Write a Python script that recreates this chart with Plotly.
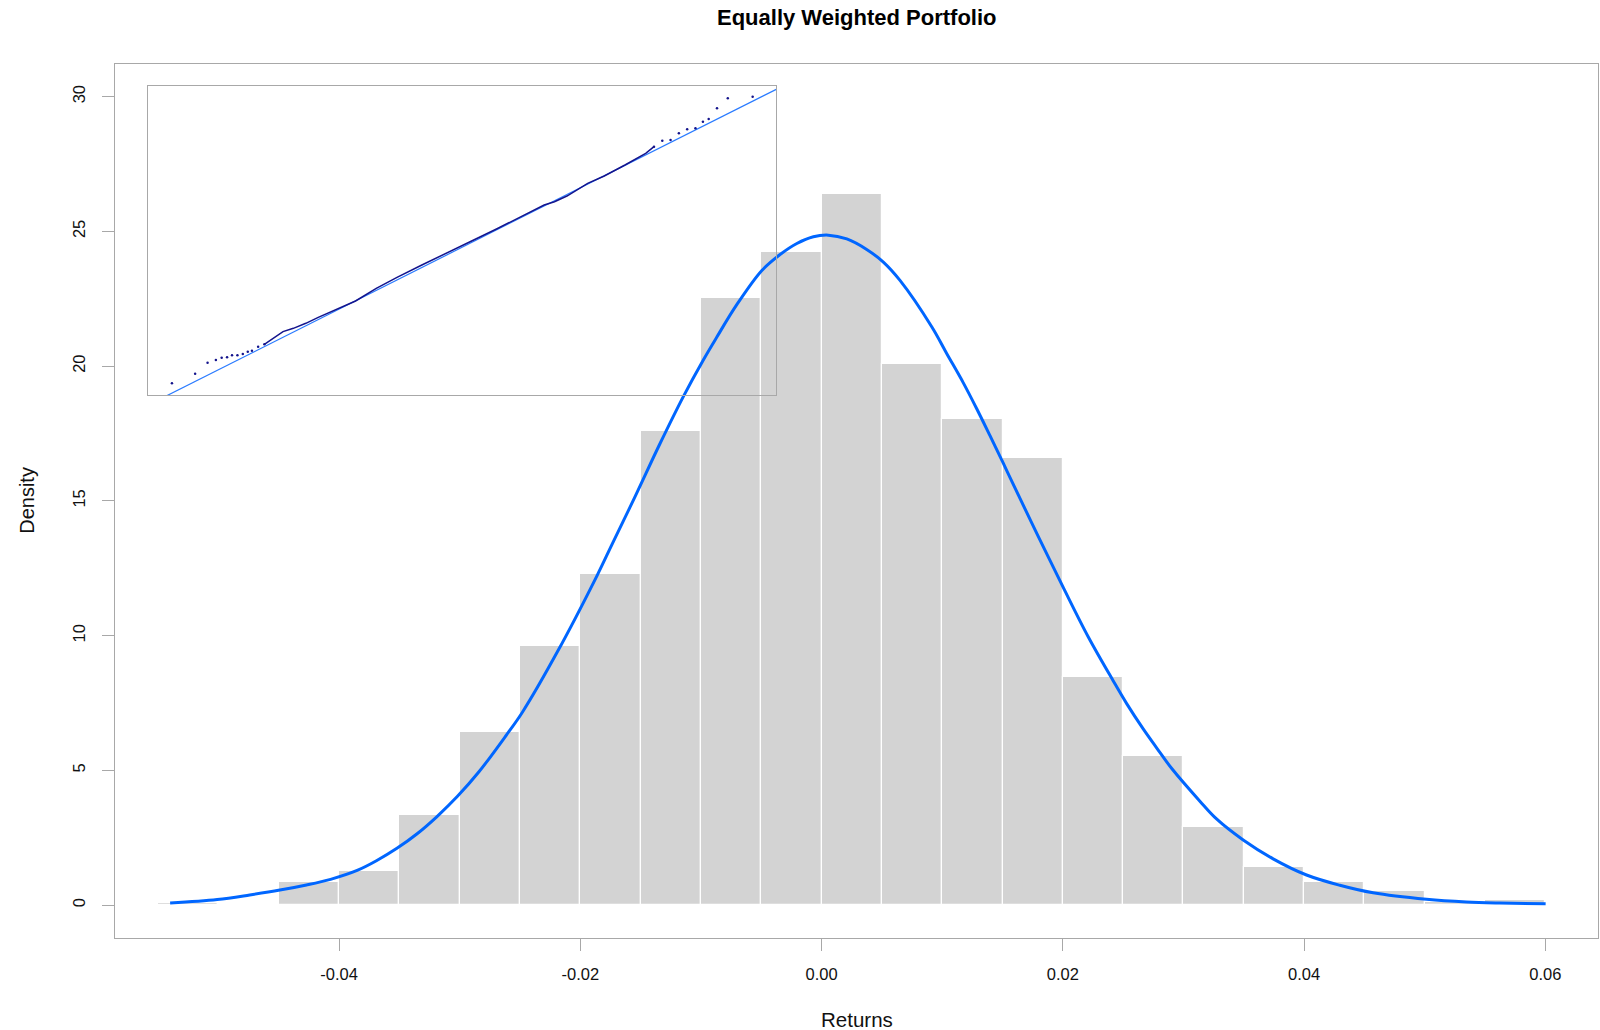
import plotly.graph_objects as go

# ---------------- data ----------------
bin_edges = [-0.055, -0.050, -0.045, -0.040, -0.035, -0.030, -0.025, -0.020,
             -0.015, -0.010, -0.005, 0.000, 0.005, 0.010, 0.015, 0.020,
             0.025, 0.030, 0.035, 0.040, 0.045, 0.050, 0.055, 0.060]
bin_density = [0.08, 0.04, 0.87, 1.28, 3.34, 6.44, 9.60, 12.28, 17.61, 22.53,
               24.22, 26.40, 20.07, 18.04, 16.61, 8.46, 5.53, 2.90, 1.42,
               0.87, 0.51, 0.12, 0.21]

curve_x = [-0.0540, -0.0501, -0.0474, -0.0449, -0.0427, -0.0407, -0.0385, -0.0369,
           -0.0352, -0.0335, -0.0319, -0.0302, -0.0284, -0.0261, -0.0248, -0.0219,
           -0.0186, -0.0174, -0.0155, -0.0134, -0.01145, -0.00979, -0.00868, -0.00703,
           -0.00495, -0.00344, -0.00205, -0.00068, 0.00056, 0.00209, 0.00374, 0.00512,
           0.00650, 0.00913, 0.01037, 0.01175, 0.01286, 0.01396, 0.01506, 0.01603,
           0.0180, 0.0200, 0.0221, 0.02418, 0.02529, 0.02666, 0.02777, 0.02901,
           0.03136, 0.03274, 0.03495, 0.03743, 0.04020, 0.04296, 0.04572, 0.05014,
           0.05345, 0.05621, 0.06002]
curve_y = [0.08, 0.21, 0.38, 0.56, 0.75, 0.96, 1.29, 1.65, 2.11, 2.66, 3.28, 4.03,
           4.95, 6.33, 7.16, 9.40, 12.24, 13.36, 15.12, 17.12, 18.88, 20.24, 21.08,
           22.28, 23.55, 24.14, 24.55, 24.80, 24.86, 24.72, 24.33, 23.86, 23.18,
           21.46, 20.47, 19.38, 18.42, 17.42, 16.40, 15.48, 13.65, 11.82, 9.96, 8.32,
           7.48, 6.54, 5.84, 5.08, 3.86, 3.20, 2.42, 1.72, 1.12, 0.74, 0.46, 0.22,
           0.12, 0.08, 0.05]

x_tick_vals = [-0.04, -0.02, 0.00, 0.02, 0.04, 0.06]
x_tick_text = ["-0.04", "-0.02", "0.00", "0.02", "0.04", "0.06"]
y_tick_vals = [0, 5, 10, 15, 20, 25, 30]
y_tick_text = ["0", "5", "10", "15", "20", "25", "30"]

# QQ inset (theoretical quantile, sample quantile)
qq_low_x = [-3.2366, -2.9779, -2.8393, -2.7469, -2.6822, -2.6221, -2.5667,
            -2.5066, -2.4465, -2.3911, -2.3449, -2.2756, -2.2063]
qq_low_y = [-0.04781, -0.04438, -0.04048, -0.03953, -0.03870, -0.03859, -0.03788,
            -0.03788, -0.03740, -0.03658, -0.03622, -0.03480, -0.03397]
qq_body_x = [-2.2063, -2.1138, -1.9983, -1.8828, -1.7442, -1.6056, -1.4208, -1.1898,
             -0.9587, -0.7277, -0.4505, -0.1732, 0.1040, 0.3812, 0.6585, 0.9126,
             1.0281, 1.1667, 1.3977, 1.5826, 1.8136, 1.9522, 2.0446, 2.1370]
qq_body_y = [-0.03397, -0.03185, -0.02948, -0.02830, -0.02652, -0.02440, -0.02179,
             -0.01860, -0.01411, -0.01020, -0.00583, -0.00169, 0.00269, 0.00694,
             0.01132, 0.01546, 0.01664, 0.01865, 0.02315, 0.02575, 0.02965,
             0.03225, 0.03379, 0.03615]
qq_high_x = [2.1370, 2.2295, 2.3219, 2.4143, 2.5067, 2.5991, 2.6823, 2.7470,
             2.8394, 2.9595, 3.2366]
qq_high_y = [0.03615, 0.03828, 0.03852, 0.04088, 0.04230, 0.04266, 0.04502,
             0.04597, 0.04975, 0.05330, 0.05389]
qq_line_intercept = 0.0005
qq_line_slope = 0.016

# ---------------- figure ----------------
FONT = "Liberation Sans, Arial, sans-serif"
bin_centers = [(a + b) / 2 for a, b in zip(bin_edges[:-1], bin_edges[1:])]
bin_widths = [b - a for a, b in zip(bin_edges[:-1], bin_edges[1:])]

fig = go.Figure()
fig.add_trace(go.Bar(x=bin_centers, y=bin_density, width=bin_widths,
                     marker=dict(color="#D3D3D3", line=dict(color="white", width=1.2)),
                     hoverinfo="skip", showlegend=False))
fig.add_trace(go.Scatter(x=curve_x, y=curve_y, mode="lines",
                         line=dict(color="#0066FF", width=3, shape="spline", smoothing=1.0),
                         hoverinfo="skip", showlegend=False))

# inset QQ plot
qx_ends = [-4.0, 4.0]
fig.add_trace(go.Scatter(x=qx_ends, y=[qq_line_intercept + qq_line_slope * v for v in qx_ends],
                         mode="lines", line=dict(color="#2A7BFF", width=1.2),
                         xaxis="x2", yaxis="y2", hoverinfo="skip", showlegend=False))
fig.add_trace(go.Scatter(x=qq_body_x, y=qq_body_y, mode="lines",
                         line=dict(color="#14148C", width=1.5),
                         xaxis="x2", yaxis="y2", hoverinfo="skip", showlegend=False))
fig.add_trace(go.Scatter(x=qq_low_x + qq_high_x, y=qq_low_y + qq_high_y, mode="markers",
                         marker=dict(color="#14148C", size=2.5),
                         xaxis="x2", yaxis="y2", hoverinfo="skip", showlegend=False))

axis_line = "#A8A8A8"
fig.update_layout(
    width=1600, height=1030,
    margin=dict(l=115, r=2, t=64, b=92),
    paper_bgcolor="white", plot_bgcolor="rgba(0,0,0,0)",
    bargap=0,
    font=dict(family=FONT, color="#111111", size=17),
    xaxis=dict(domain=[0, 1], range=[-0.05857, 0.06436], tickvals=x_tick_vals,
               ticktext=x_tick_text, ticks="outside", ticklen=12, tickcolor=axis_line,
               tickwidth=1.2, showline=True, mirror=True, linecolor=axis_line, linewidth=1.3,
               showgrid=False, zeroline=False, tickfont=dict(size=16.5),
               ticklabelstandoff=9),
    yaxis=dict(domain=[0, 1], range=[-1.217, 31.21], tickvals=y_tick_vals,
               ticktext=y_tick_text, ticks="outside", ticklen=12, tickcolor=axis_line,
               tickwidth=1.2, showline=True, mirror=True, linecolor=axis_line, linewidth=1.3,
               showgrid=False, zeroline=False, tickangle=-90, tickfont=dict(size=16.5),
               ticklabelstandoff=10),
    xaxis2=dict(domain=[0.02245, 0.4459], range=[-3.5, 3.5], anchor="y2",
                showline=True, mirror=True, linecolor=axis_line, linewidth=1.3,
                showgrid=False, zeroline=False, showticklabels=False, ticks=""),
    yaxis2=dict(domain=[0.6213, 0.9748], range=[-0.05195, 0.05768], anchor="x2",
                showline=True, mirror=True, linecolor=axis_line, linewidth=1.3,
                showgrid=False, zeroline=False, showticklabels=False, ticks=""),
    annotations=[
        dict(text="<b>Equally Weighted Portfolio</b>", xref="paper", yref="paper",
             x=0.5, y=1.0532, xanchor="center", yanchor="middle", showarrow=False,
             font=dict(size=22, color="#000000")),
        dict(text="Returns", xref="paper", yref="paper", x=0.5, y=-0.0938,
             xanchor="center", yanchor="middle", showarrow=False, font=dict(size=20.5)),
        dict(text="Density", xref="paper", yref="paper", x=-0.0595, y=0.5011,
             xanchor="center", yanchor="middle", showarrow=False, textangle=-90,
             font=dict(size=20)),
    ],
)

fig.write_html("out.html", config={"displayModeBar": False})
